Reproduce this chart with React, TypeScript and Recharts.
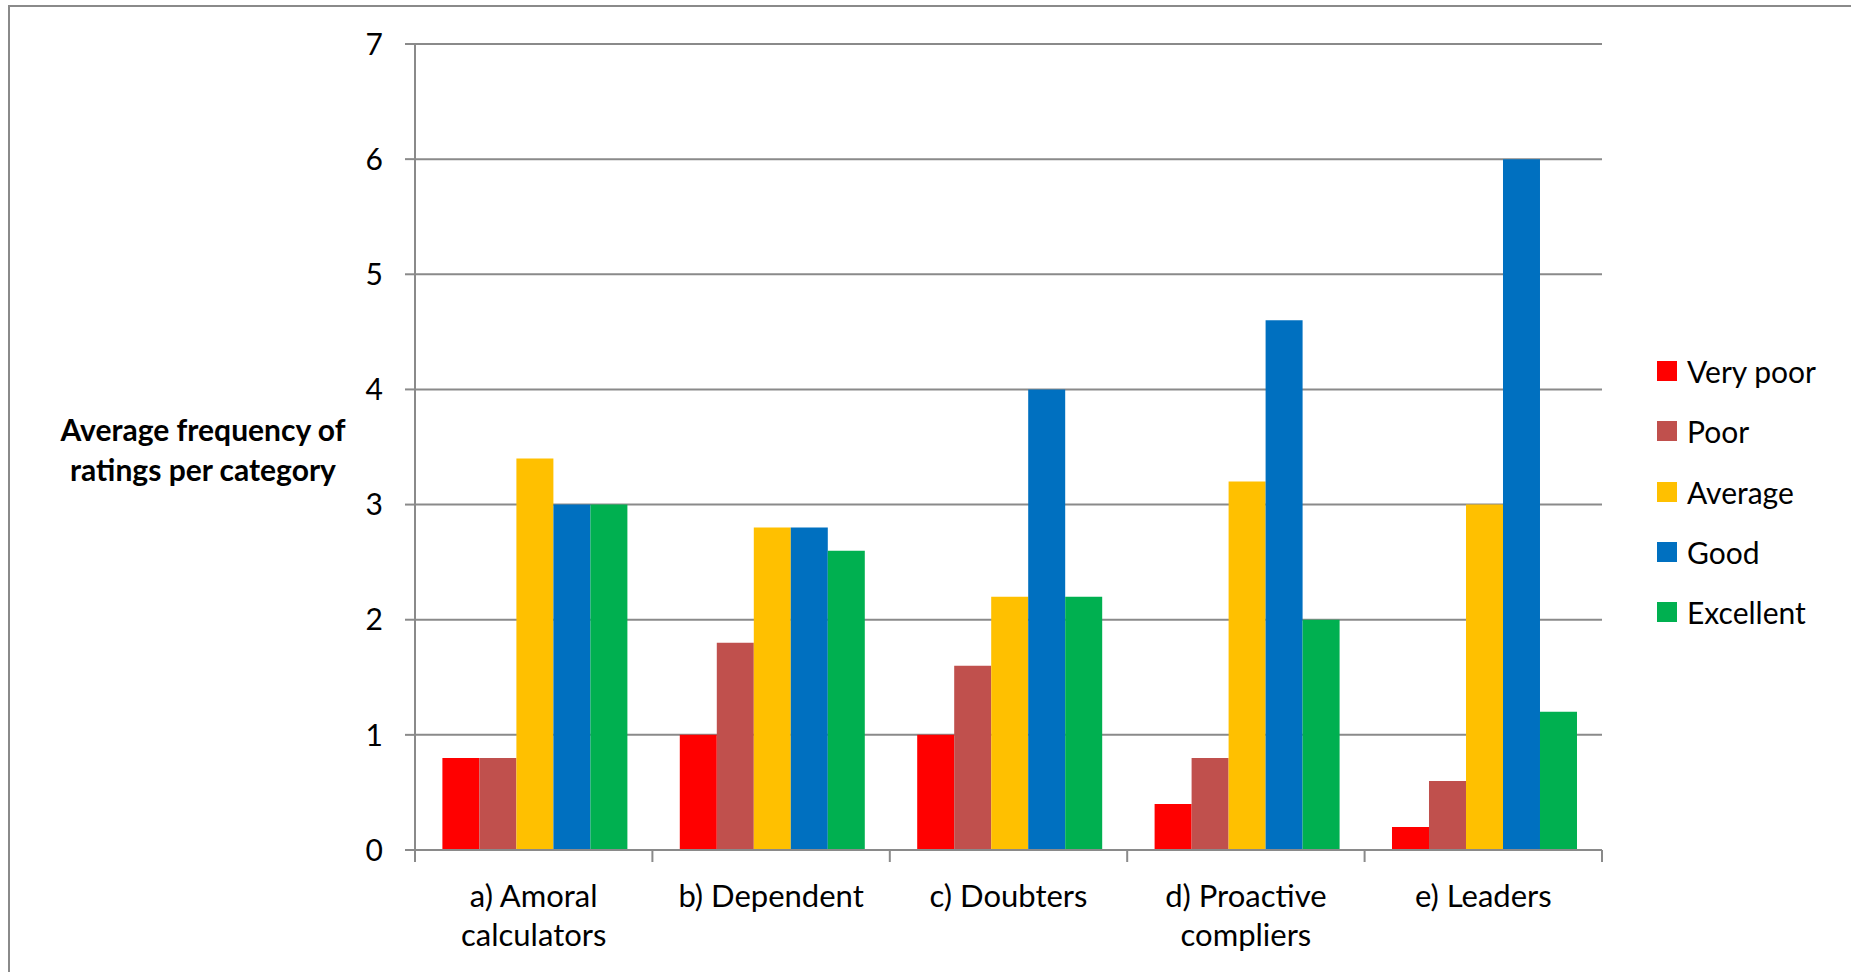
import React from 'react';
import { BarChart, Bar, XAxis, YAxis, CartesianGrid, Legend, Label } from 'recharts';

// Respondent categories, split into the lines shown under the axis
const categories = ['a) Amoral calculators', 'b) Dependent', 'c) Doubters', 'd) Proactive compliers', 'e) Leaders'];
const categoryLines = [['a) Amoral', 'calculators'], ['b) Dependent'], ['c) Doubters'], ['d) Proactive', 'compliers'], ['e) Leaders']];

// Average frequency of each rating, one value per category
const veryPoor = [0.8, 1.0, 1.0, 0.4, 0.2];
const poor = [0.8, 1.8, 1.6, 0.8, 0.6];
const average = [3.4, 2.8, 2.2, 3.2, 3.0];
const good = [3.0, 2.8, 4.0, 4.6, 6.0];
const excellent = [3.0, 2.6, 2.2, 2.0, 1.2];

const seriesKeys = ['veryPoor', 'poor', 'average', 'good', 'excellent'];
const seriesNames = ['Very poor', 'Poor', 'Average', 'Good', 'Excellent'];
const seriesColors = ['#FF0000', '#C0504D', '#FFC000', '#0070C0', '#00B050'];

const yTicks = [0, 1, 2, 3, 4, 5, 6, 7];

const data = categories.map((name, i) => ({
  name,
  veryPoor: veryPoor[i],
  poor: poor[i],
  average: average[i],
  good: good[i],
  excellent: excellent[i],
}));

const FONT = 'Lato, "Open Sans", sans-serif';
const AXIS_GRAY = '#8a8a8a';

// Category label plus the tick marks on the band edges (between categories)
const CategoryTick = (props: any) => {
  const { x, y, payload } = props;
  const idx = categories.indexOf(payload.value);
  const lines = categoryLines[idx] || [payload.value];
  const half = payload.offset || 0;
  const isLast = idx === categories.length - 1;
  return (
    <g>
      {half > 0 && (
        <line x1={x - half} x2={x - half} y1={y} y2={y + 12} stroke={AXIS_GRAY} strokeWidth={2} />
      )}
      {half > 0 && isLast && (
        <line x1={x + half} x2={x + half} y1={y} y2={y + 12} stroke={AXIS_GRAY} strokeWidth={2} />
      )}
      <text x={x} y={y} textAnchor="middle" fontFamily={FONT} fontSize={31} fill="#000">
        {lines.map((line, i) => (
          <tspan key={i} x={x} y={y + 57 + i * 39}>
            {line}
          </tspan>
        ))}
      </text>
    </g>
  );
};

const AxisTitle = (props: any) => {
  const { viewBox } = props;
  const cx = viewBox.x + viewBox.width - 212;
  const cy = viewBox.y + viewBox.height / 2;
  return (
    <text textAnchor="middle" fontFamily={FONT} fontSize={30} fontWeight="bold" fill="#000">
      <tspan x={cx} y={cy - 6}>Average frequency of</tspan>
      <tspan x={cx} y={cy + 34}>ratings per category</tspan>
    </text>
  );
};

const LegendList = () => (
  <div style={{ fontFamily: FONT, fontSize: 30, color: '#000' }}>
    {seriesNames.map((name, i) => (
      <div key={name} style={{ height: 60.25, display: 'flex', alignItems: 'center' }}>
        <span style={{ width: 20, height: 20, background: seriesColors[i], display: 'inline-block', marginRight: 10 }} />
        <span style={{ lineHeight: 1 }}>{name}</span>
      </div>
    ))}
  </div>
);

export default function App() {
  return (
    <div style={{ position: 'absolute', left: 0, top: 0, width: 1851, height: 972, overflow: 'hidden', background: '#fff' }}>
      <div
        style={{
          position: 'absolute',
          left: 8,
          top: 5,
          width: 1900,
          height: 1000,
          border: `2px solid ${AXIS_GRAY}`,
        }}
      />
      <div style={{ position: 'absolute', left: 0, top: 0 }}>
        <BarChart
          width={1851}
          height={972}
          data={data}
          margin={{ top: 44, right: 249, bottom: 0, left: 355 }}
          barCategoryGap="11.54%"
          barGap={0}
        >
          <CartesianGrid vertical={false} stroke={AXIS_GRAY} strokeWidth={2} />
          <XAxis
            dataKey="name"
            height={122}
            axisLine={{ stroke: AXIS_GRAY, strokeWidth: 2 }}
            tickLine={false}
            tickSize={0}
            tickMargin={0}
            interval={0}
            tick={<CategoryTick />}
          />
          <YAxis
            width={60}
            domain={[0, 7]}
            ticks={yTicks}
            interval={0}
            axisLine={{ stroke: AXIS_GRAY, strokeWidth: 2 }}
            tickLine={{ stroke: AXIS_GRAY, strokeWidth: 2 }}
            tickSize={10}
            tickMargin={22}
            tick={{ fontFamily: FONT, fontSize: 30, fill: '#000' }}
          >
            <Label content={<AxisTitle />} />
          </YAxis>
          <Legend
            layout="vertical"
            align="center"
            verticalAlign="middle"
            content={<LegendList />}
            wrapperStyle={{ left: 1657, top: 341, width: 190 }}
          />
          {seriesKeys.map((key, i) => (
            <Bar
              key={key}
              dataKey={key}
              name={seriesNames[i]}
              fill={seriesColors[i]}
              isAnimationActive={false}
            />
          ))}
        </BarChart>
      </div>
    </div>
  );
}
